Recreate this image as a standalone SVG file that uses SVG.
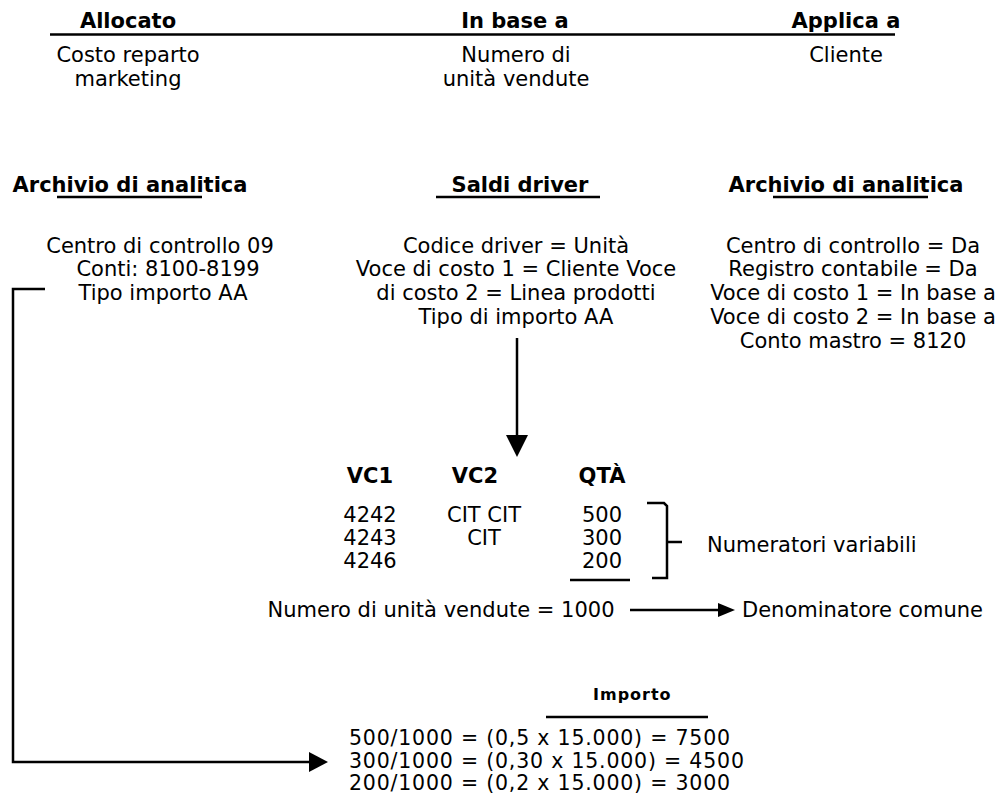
<svg xmlns="http://www.w3.org/2000/svg" width="1006" height="802" viewBox="0 0 1006 802">
<style>
text{font-family:"DejaVu Sans","Liberation Sans",sans-serif;font-size:21px;fill:#000}
.b{font-weight:bold}
.m{text-anchor:middle}
.f{font-size:20.5px;letter-spacing:0.8px}
.ln{stroke:#000;stroke-width:2.5;fill:none}
.hd{fill:#000;stroke:none}
</style>
<rect width="1006" height="802" fill="#fff"/>
<g id="header">
<text class="b m" x="128" y="28">Allocato</text>
<text class="b m" x="515" y="28">In base a</text>
<text class="b m" x="846" y="28">Applica a</text>
<line class="ln" x1="50" y1="34.5" x2="895" y2="34.5" stroke-width="3"/>
<text class="m" x="128" y="62">Costo reparto</text>
<text class="m" x="128" y="86">marketing</text>
<text class="m" x="516" y="62">Numero di</text>
<text class="m" x="516" y="86">unità vendute</text>
<text class="m" x="846" y="62">Cliente</text>
</g>
<g id="archivio-sx">
<text class="b m" x="130" y="192">Archivio di analitica</text>
<line class="ln" x1="57" y1="197" x2="202" y2="197"/>
<text class="m" x="160" y="253">Centro di controllo 09</text>
<text class="m" x="168" y="276">Conti: 8100-8199</text>
<text class="m" x="163" y="300">Tipo importo AA</text>
</g>
<g id="saldi-driver">
<text class="b m" x="520" y="192">Saldi driver</text>
<line class="ln" x1="436" y1="197" x2="600" y2="197"/>
<text class="m" x="516" y="253">Codice driver = Unità</text>
<text class="m" x="516" y="276">Voce di costo 1 = Cliente Voce</text>
<text class="m" x="516" y="300">di costo 2 = Linea prodotti</text>
<text class="m" x="516" y="324">Tipo di importo AA</text>
</g>
<g id="archivio-dx">
<text class="b m" x="846" y="192">Archivio di analitica</text>
<line class="ln" x1="773" y1="197" x2="928" y2="197"/>
<text class="m" x="853" y="253">Centro di controllo = Da</text>
<text class="m" x="853" y="276">Registro contabile = Da</text>
<text class="m" x="853" y="300">Voce di costo 1 = In base a</text>
<text class="m" x="853" y="324">Voce di costo 2 = In base a</text>
<text class="m" x="853" y="348">Conto mastro = 8120</text>
</g>
<g id="tabella">
<text class="b m" x="370" y="483">VC1</text>
<text class="b m" x="475" y="483">VC2</text>
<text class="b m" x="602" y="483">QTÀ</text>
<text class="m" x="370" y="522">4242</text>
<text class="m" x="370" y="545">4243</text>
<text class="m" x="370" y="568">4246</text>
<text class="m" x="484" y="522">CIT CIT</text>
<text class="m" x="484" y="545">CIT</text>
<text class="m" x="602" y="522">500</text>
<text class="m" x="602" y="545">300</text>
<text class="m" x="602" y="568">200</text>
<line class="ln" x1="570" y1="580" x2="630" y2="580"/>
</g>
<g id="numeratori">
<path class="ln" d="M647,503 H664 L667,506 V578 H652 M667,542 H682"/>
<text x="707" y="552">Numeratori variabili</text>
</g>
<g id="denominatore">
<text class="m" x="441" y="617">Numero di unità vendute = 1000</text>
<text x="742" y="617">Denominatore comune</text>
</g>
<g id="importo">
<text class="b" x="593" y="700" style="font-size:16px;letter-spacing:1px">Importo</text>
<line class="ln" x1="546" y1="717" x2="708" y2="717"/>
<text class="f" x="349" y="745">500/1000 = (0,5 x 15.000) = 7500</text>
<text class="f" x="349" y="768">300/1000 = (0,30 x 15.000) = 4500</text>
<text class="f" x="349" y="790">200/1000 = (0,2 x 15.000) = 3000</text>
</g>
<g id="connectors">
<line class="ln" x1="517" y1="338" x2="517" y2="437"/>
<polygon class="hd" points="506,435 528,435 517,457"/>
<line class="ln" x1="630" y1="610" x2="722" y2="610"/>
<polygon class="hd" points="718,603 735,610 718,617"/>
<path class="ln" d="M45,289 H13 V762 H312"/>
<polygon class="hd" points="309,752 328,762 309,772"/>
</g>
</svg>
